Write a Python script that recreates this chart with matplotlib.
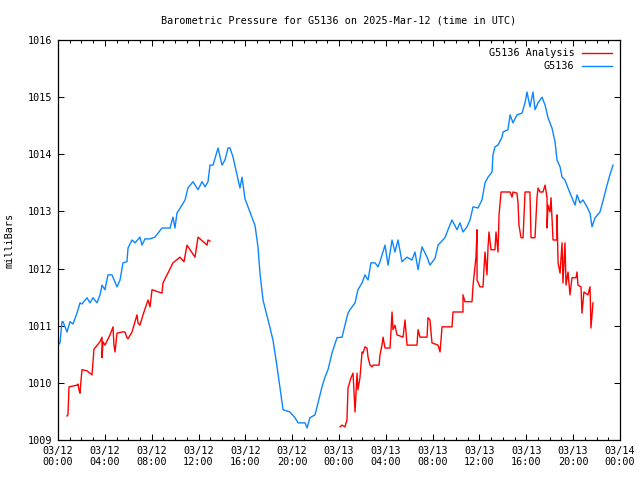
import matplotlib
matplotlib.use("Agg")
import matplotlib.pyplot as plt
from matplotlib.ticker import FixedLocator, MultipleLocator

# hours since 2025-03-12 00:00 UTC, pressure in mb
blue_hours = [0.00, 0.17, 0.34, 0.43, 0.77, 1.02, 1.28, 1.62, 1.88, 2.05, 2.48, 2.73, 2.99, 3.33,
              3.59, 3.76, 4.01, 4.27, 4.61, 5.04, 5.30, 5.55, 5.89, 5.98, 6.32, 6.58, 7.00, 7.17,
              7.43, 7.86, 8.28, 8.88, 9.57, 9.82, 9.99, 10.16, 10.59, 10.85, 11.10, 11.53, 11.96,
              12.30, 12.56, 12.81, 12.98, 13.24, 13.67, 14.01, 14.26, 14.52, 14.69, 14.95, 15.29,
              15.54, 15.72, 15.97, 16.23, 16.57, 16.83, 17.08, 17.25, 17.51, 17.94, 18.36, 18.71,
              18.96, 19.22, 19.81, 20.24, 20.50, 21.10, 21.27, 21.52, 21.95, 22.21, 22.55, 22.80,
              23.06, 23.40, 23.83, 24.26, 24.51, 24.77, 24.94, 25.37, 25.62, 25.97, 26.22, 26.48,
              26.73, 27.08, 27.33, 27.50, 27.93, 28.19, 28.53, 28.78, 29.04, 29.38, 29.81, 30.23,
              30.49, 30.75, 31.09, 31.52, 31.77, 32.20, 32.46, 33.05, 33.31, 33.65, 34.08, 34.33,
              34.59, 34.93, 35.19, 35.45, 35.87, 36.21, 36.47, 36.73, 37.07, 37.15, 37.32, 37.58,
              37.92, 38.01, 38.43, 38.61, 38.86, 39.20, 39.63, 39.89, 40.06, 40.31, 40.57, 40.74,
              41.00, 41.34, 41.60, 41.85, 42.19, 42.45, 42.62, 42.88, 43.05, 43.30, 43.56, 43.90,
              44.16, 44.33, 44.58, 44.84, 45.18, 45.44, 45.61, 45.87, 46.29, 46.63, 46.89, 47.14,
              47.40]
blue_mb = [1010.66, 1010.70, 1011.07, 1011.07, 1010.89, 1011.07, 1011.03, 1011.22, 1011.40, 1011.38,
           1011.49, 1011.40, 1011.49, 1011.40, 1011.54, 1011.71, 1011.63, 1011.89, 1011.89, 1011.68,
           1011.80, 1012.10, 1012.12, 1012.36, 1012.50, 1012.45, 1012.55, 1012.41, 1012.52, 1012.52,
           1012.55, 1012.71, 1012.71, 1012.90, 1012.71, 1012.97, 1013.11, 1013.20, 1013.41, 1013.52,
           1013.38, 1013.52, 1013.43, 1013.52, 1013.81, 1013.81, 1014.11, 1013.81, 1013.90, 1014.11,
           1014.11, 1013.95, 1013.64, 1013.41, 1013.60, 1013.22, 1013.08, 1012.89, 1012.75, 1012.38,
           1011.92, 1011.45, 1011.10, 1010.75, 1010.28, 1009.91, 1009.53, 1009.49, 1009.39, 1009.30,
           1009.30, 1009.21, 1009.39, 1009.44, 1009.65, 1009.93, 1010.10, 1010.23, 1010.52, 1010.79,
           1010.80, 1011.01, 1011.22, 1011.28, 1011.40, 1011.63, 1011.75, 1011.89, 1011.80, 1012.10,
           1012.10, 1012.03, 1012.12, 1012.41, 1012.06, 1012.50, 1012.29, 1012.50, 1012.12, 1012.20,
           1012.15, 1012.29, 1011.98, 1012.38, 1012.20, 1012.06, 1012.18, 1012.41, 1012.54, 1012.68,
           1012.85, 1012.68, 1012.80, 1012.64, 1012.73, 1012.85, 1013.08, 1013.06, 1013.20, 1013.50,
           1013.60, 1013.69, 1013.99, 1014.13, 1014.16, 1014.30, 1014.39, 1014.43, 1014.69, 1014.55,
           1014.69, 1014.72, 1014.90, 1015.09, 1014.83, 1015.09, 1014.78, 1014.90, 1015.00, 1014.86,
           1014.64, 1014.46, 1014.22, 1013.90, 1013.78, 1013.60, 1013.55, 1013.41, 1013.24, 1013.11,
           1013.29, 1013.15, 1013.20, 1013.08, 1012.97, 1012.73, 1012.89, 1012.99, 1013.25, 1013.46,
           1013.64, 1013.81]

red1_hours = [0.77, 0.85, 0.94, 1.62, 1.71, 1.79, 1.88, 1.96, 2.05, 2.48, 2.73, 2.90, 2.99, 3.07,
              3.59, 3.76, 3.76, 3.84, 4.01, 4.44, 4.70, 4.78, 4.87, 5.04, 5.47, 5.72, 5.89, 5.98,
              6.32, 6.75, 6.83, 7.00, 7.26, 7.69, 7.86, 8.03, 8.88, 8.97, 9.82, 10.42, 10.76, 11.02,
              11.70, 11.96, 12.73, 12.81, 12.98]
red1_mb = [1009.42, 1009.44, 1009.93, 1009.96, 1009.98, 1009.88, 1009.82, 1010.03, 1010.23, 1010.21,
           1010.17, 1010.14, 1010.37, 1010.59, 1010.72, 1010.80, 1010.44, 1010.72, 1010.66, 1010.84,
           1010.98, 1010.66, 1010.54, 1010.87, 1010.89, 1010.89, 1010.79, 1010.77, 1010.89, 1011.19,
           1011.05, 1011.01, 1011.19, 1011.45, 1011.33, 1011.63, 1011.57, 1011.75, 1012.10, 1012.20,
           1012.12, 1012.41, 1012.20, 1012.55, 1012.41, 1012.50, 1012.48]

red2_hours = [24.09, 24.26, 24.51, 24.68, 24.77, 25.03, 25.20, 25.37, 25.54, 25.62, 25.79, 25.97,
              26.05, 26.22, 26.39, 26.48, 26.65, 26.82, 26.90, 27.42, 27.50, 27.67, 27.76, 27.93,
              28.36, 28.53, 28.61, 28.78, 28.95, 29.47, 29.64, 29.81, 30.66, 30.75, 30.92, 31.52,
              31.60, 31.77, 31.94, 32.46, 32.63, 32.80, 33.65, 33.74, 34.59, 34.59, 34.76, 35.36,
              35.45, 35.70, 35.79, 35.79, 36.04, 36.30, 36.38, 36.47, 36.64, 36.73, 36.81, 36.98,
              37.32, 37.41, 37.58, 37.67, 37.84, 38.61, 38.78, 38.86, 39.20, 39.29, 39.37, 39.55,
              39.72, 39.89, 40.31, 40.40, 40.74, 40.91, 41.00, 41.17, 41.42, 41.60, 41.77, 41.77,
              41.85, 42.02, 42.11, 42.28, 42.62, 42.62, 42.71, 42.88, 43.05, 43.13, 43.30, 43.39,
              43.56, 43.73, 43.90, 44.24, 44.33, 44.41, 44.67, 44.75, 44.92, 45.26, 45.44, 45.52,
              45.69]
red2_mb = [1009.23, 1009.26, 1009.23, 1009.35, 1009.91, 1010.09, 1010.17, 1009.49, 1010.17, 1009.88,
           1010.09, 1010.54, 1010.52, 1010.63, 1010.61, 1010.45, 1010.31, 1010.28, 1010.31, 1010.31,
           1010.49, 1010.66, 1010.80, 1010.61, 1010.61, 1011.24, 1010.93, 1011.01, 1010.84, 1010.80,
           1011.10, 1010.66, 1010.66, 1010.93, 1010.80, 1010.80, 1011.14, 1011.10, 1010.70, 1010.66,
           1010.54, 1010.98, 1010.98, 1011.24, 1011.24, 1011.54, 1011.42, 1011.42, 1011.71, 1012.20,
           1012.68, 1011.80, 1011.68, 1011.68, 1011.98, 1012.29, 1011.89, 1012.38, 1012.64, 1012.33,
           1012.33, 1012.64, 1012.29, 1012.94, 1013.34, 1013.34, 1013.25, 1013.34, 1013.32, 1013.15,
           1012.76, 1012.54, 1012.54, 1013.34, 1013.34, 1012.54, 1012.54, 1013.24, 1013.41, 1013.34,
           1013.34, 1013.46, 1013.24, 1012.71, 1013.11, 1012.99, 1013.24, 1012.50, 1012.50, 1012.94,
           1012.10, 1011.92, 1012.45, 1011.75, 1012.45, 1011.71, 1011.94, 1011.54, 1011.84, 1011.84,
           1011.94, 1011.71, 1011.68, 1011.22, 1011.59, 1011.54, 1011.68, 1010.96, 1011.40]

xtick_hours = [0, 4, 8, 12, 16, 20, 24, 28, 32, 36, 40, 44, 48]
xtick_labels = ["03/12\n00:00", "03/12\n04:00", "03/12\n08:00", "03/12\n12:00", "03/12\n16:00",
                "03/12\n20:00", "03/13\n00:00", "03/13\n04:00", "03/13\n08:00", "03/13\n12:00",
                "03/13\n16:00", "03/13\n20:00", "03/14\n00:00"]

plt.rcParams['font.family'] = ['DejaVu Sans Mono']
plt.rcParams['font.size'] = 7.3

fig, ax = plt.subplots(figsize=(6.4, 4.8), dpi=100)
fig.subplots_adjust(left=58 / 640, right=620 / 640, top=1 - 40 / 480, bottom=1 - 440 / 480)

red = '#ff0000'
blue = '#0c86ff'
ax.plot(red1_hours, red1_mb, color=red, lw=1.0, label='G5136 Analysis')
ax.plot(red2_hours, red2_mb, color=red, lw=1.0)
ax.plot(blue_hours, blue_mb, color=blue, lw=1.0, label='G5136')

ax.set_xlim(0, 48)
ax.set_ylim(1009, 1016)
ax.xaxis.set_major_locator(FixedLocator(xtick_hours))
ax.set_xticklabels(xtick_labels)
ax.xaxis.set_minor_locator(MultipleLocator(1))
ax.yaxis.set_major_locator(MultipleLocator(1))

ax.tick_params(which='both', direction='in', top=True, right=True, width=0.75, labelsize=7.3)
ax.tick_params(which='major', length=4.5, pad=4)
ax.tick_params(which='minor', length=2.3)
for s in ax.spines.values():
    s.set_linewidth(0.9)

ax.set_title('Barometric Pressure for G5136 on 2025-Mar-12 (time in UTC)', fontsize=7.3, pad=12)
ax.set_ylabel('milliBars', fontsize=7.3, labelpad=10)

ax.legend(loc='upper right', frameon=False, markerfirst=False, fontsize=7.3,
          handlelength=2.9, handletextpad=0.8, labelspacing=0.3,
          borderaxespad=0.4, borderpad=0.4)

fig.savefig('out.png', dpi=100)
